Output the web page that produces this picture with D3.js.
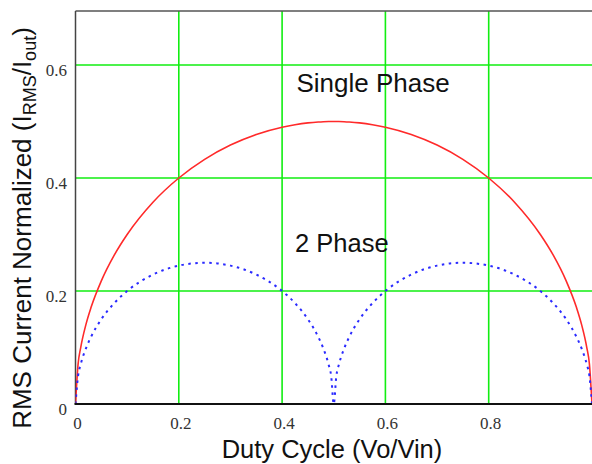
<!DOCTYPE html>
<html>
<head>
<meta charset="utf-8">
<script src="https://cdn.jsdelivr.net/npm/d3@7"></script>
<style>
  html, body { margin: 0; padding: 0; background: #fff; }
  svg { display: block; }
</style>
</head>
<body>
<svg id="chart" width="592" height="464"></svg>
<script>
// ---- data ----
const duty = [0, 0.005, 0.01, 0.02, 0.03, 0.05, 0.075, 0.1, 0.15, 0.2, 0.25, 0.3, 0.35, 0.4, 0.425, 0.45, 0.47, 0.48, 0.49, 0.495, 0.5,
              0.505, 0.51, 0.52, 0.53, 0.55, 0.575, 0.6, 0.65, 0.7, 0.75, 0.8, 0.85, 0.9, 0.925, 0.95, 0.97, 0.98, 0.99, 0.995, 1.0];
const singlePhase = [0, 0.0705, 0.0995, 0.14, 0.1706, 0.2179, 0.2634, 0.3, 0.3571, 0.4, 0.433, 0.4583, 0.477, 0.4899, 0.4943, 0.4975, 0.4991, 0.4996, 0.4999, 0.5, 0.5,
                     0.5, 0.4999, 0.4996, 0.4991, 0.4975, 0.4943, 0.4899, 0.477, 0.4583, 0.433, 0.4, 0.3571, 0.3, 0.2634, 0.2179, 0.1706, 0.14, 0.0995, 0.0705, 0];
const twoPhase = [0, 0.0497, 0.07, 0.098, 0.1187, 0.15, 0.1785, 0.2, 0.2291, 0.2449, 0.25, 0.2449, 0.2291, 0.2, 0.1785, 0.15, 0.1187, 0.098, 0.07, 0.0497, 0,
                  0.0497, 0.07, 0.098, 0.1187, 0.15, 0.1785, 0.2, 0.2291, 0.2449, 0.25, 0.2449, 0.2291, 0.2, 0.1785, 0.15, 0.1187, 0.098, 0.07, 0.0497, 0];
const xTicks = [0, 0.2, 0.4, 0.6, 0.8];
const yTicks = [0, 0.2, 0.4, 0.6];
const xGrid = [0.2, 0.4, 0.6, 0.8];
const yGrid = [0.2, 0.4, 0.6];
const xTickLabels = ["0", "0.2", "0.4", "0.6", "0.8"];
const yTickLabels = ["0", "0.2", "0.4", "0.6"];

(function () {
// ---- layout ----
const svg = d3.select("#chart");
const pLeft = 75.5, pRight = 592, pTop = 11, pBottom = 404;
const x = d3.scaleLinear().domain([0, 1]).range([pLeft, pRight]);
const y = d3.scaleLinear().domain([0, 0.2]).range([pBottom, 291]);

svg.append("clipPath").attr("id", "plotclip")
  .append("rect").attr("x", pLeft).attr("y", pTop).attr("width", pRight - pLeft).attr("height", pBottom - pTop);

// grid
const grid = svg.append("g");
grid.selectAll(".vg").data(xGrid).join("line").attr("class", "vg")
  .attr("x1", d => x(d)).attr("x2", d => x(d))
  .attr("y1", pTop).attr("y2", pBottom)
  .attr("stroke", "#11ee11").attr("stroke-width", 1.6);
grid.selectAll(".hg").data(yGrid).join("line").attr("class", "hg")
  .attr("x1", pLeft).attr("x2", pRight)
  .attr("y1", d => y(d)).attr("y2", d => y(d))
  .attr("stroke", "#11ee11").attr("stroke-width", 1.6);

// borders
svg.append("line").attr("x1", pLeft).attr("x2", pRight).attr("y1", pTop).attr("y2", pTop)
  .attr("stroke", "#555").attr("stroke-width", 1.5);
svg.append("line").attr("x1", pLeft).attr("x2", pLeft).attr("y1", pTop).attr("y2", pBottom)
  .attr("stroke", "#444").attr("stroke-width", 1.5);

// curves
const pts1 = duty.map((d, i) => [d, singlePhase[i]]);
const pts2 = duty.map((d, i) => [d, twoPhase[i]]);
const line = d3.line().x(d => x(d[0])).y(d => y(d[1])).curve(d3.curveMonotoneX);
const plot = svg.append("g").attr("clip-path", "url(#plotclip)");
plot.append("path").attr("d", line(pts1))
  .attr("fill", "none").attr("stroke", "#ff2a2a").attr("stroke-width", 1.6);
plot.append("path").attr("d", line(pts2))
  .attr("fill", "none").attr("stroke", "#2a2aff").attr("stroke-width", 2)
  .attr("stroke-dasharray", "2.5,4.5");

// bottom axis line
svg.append("line").attr("x1", pLeft - 1).attr("x2", pRight).attr("y1", pBottom).attr("y2", pBottom)
  .attr("stroke", "#111").attr("stroke-width", 2);

// tick labels (serif)
const xAxis = d3.axisBottom(x).tickValues(xTicks).tickSize(0).tickPadding(0)
  .tickFormat((d, i) => xTickLabels[i]);
const gx = svg.append("g").attr("transform", `translate(0,${pBottom})`).call(xAxis);
gx.select(".domain").remove();
gx.selectAll("text").attr("dy", null).attr("y", 24.5).attr("dx", 1.5)
  .attr("font-family", "'Liberation Serif', 'DejaVu Serif', serif").attr("font-size", 17).attr("fill", "#333");

const yAxis = d3.axisLeft(y).tickValues(yTicks).tickSize(0).tickPadding(0)
  .tickFormat((d, i) => yTickLabels[i]);
const gy = svg.append("g").attr("transform", `translate(${pLeft - 8.5},0)`).call(yAxis);
gy.select(".domain").remove();
gy.selectAll("text").attr("dy", null).attr("y", 10)
  .attr("font-family", "'Liberation Serif', 'DejaVu Serif', serif").attr("font-size", 17).attr("fill", "#333");

// axis titles
const sans = "'Liberation Sans', Arial, sans-serif";
svg.append("text").attr("x", 332).attr("y", 457.5).attr("text-anchor", "middle")
  .attr("font-family", sans).attr("font-size", 25.5).attr("fill", "#111")
  .text("Duty Cycle (Vo/Vin)");

const yt = svg.append("text").attr("transform", "translate(31,228) rotate(-90)")
  .attr("text-anchor", "middle").attr("font-family", sans).attr("font-size", 26).attr("fill", "#111");
yt.append("tspan").text("RMS Current Normalized (I");
yt.append("tspan").attr("font-size", 18).attr("dy", 5).text("RMS");
yt.append("tspan").attr("dy", -5).text("/I");
yt.append("tspan").attr("font-size", 18).attr("dy", 5).text("out");
yt.append("tspan").attr("dy", -5).text(")");

// annotations
svg.append("text").attr("x", 296.5).attr("y", 91.5)
  .attr("font-family", sans).attr("font-size", 26).attr("fill", "#111").text("Single Phase");
svg.append("text").attr("x", 295).attr("y", 251.5)
  .attr("font-family", sans).attr("font-size", 25.5).attr("fill", "#111").text("2 Phase");
})();
</script>
</body>
</html>
